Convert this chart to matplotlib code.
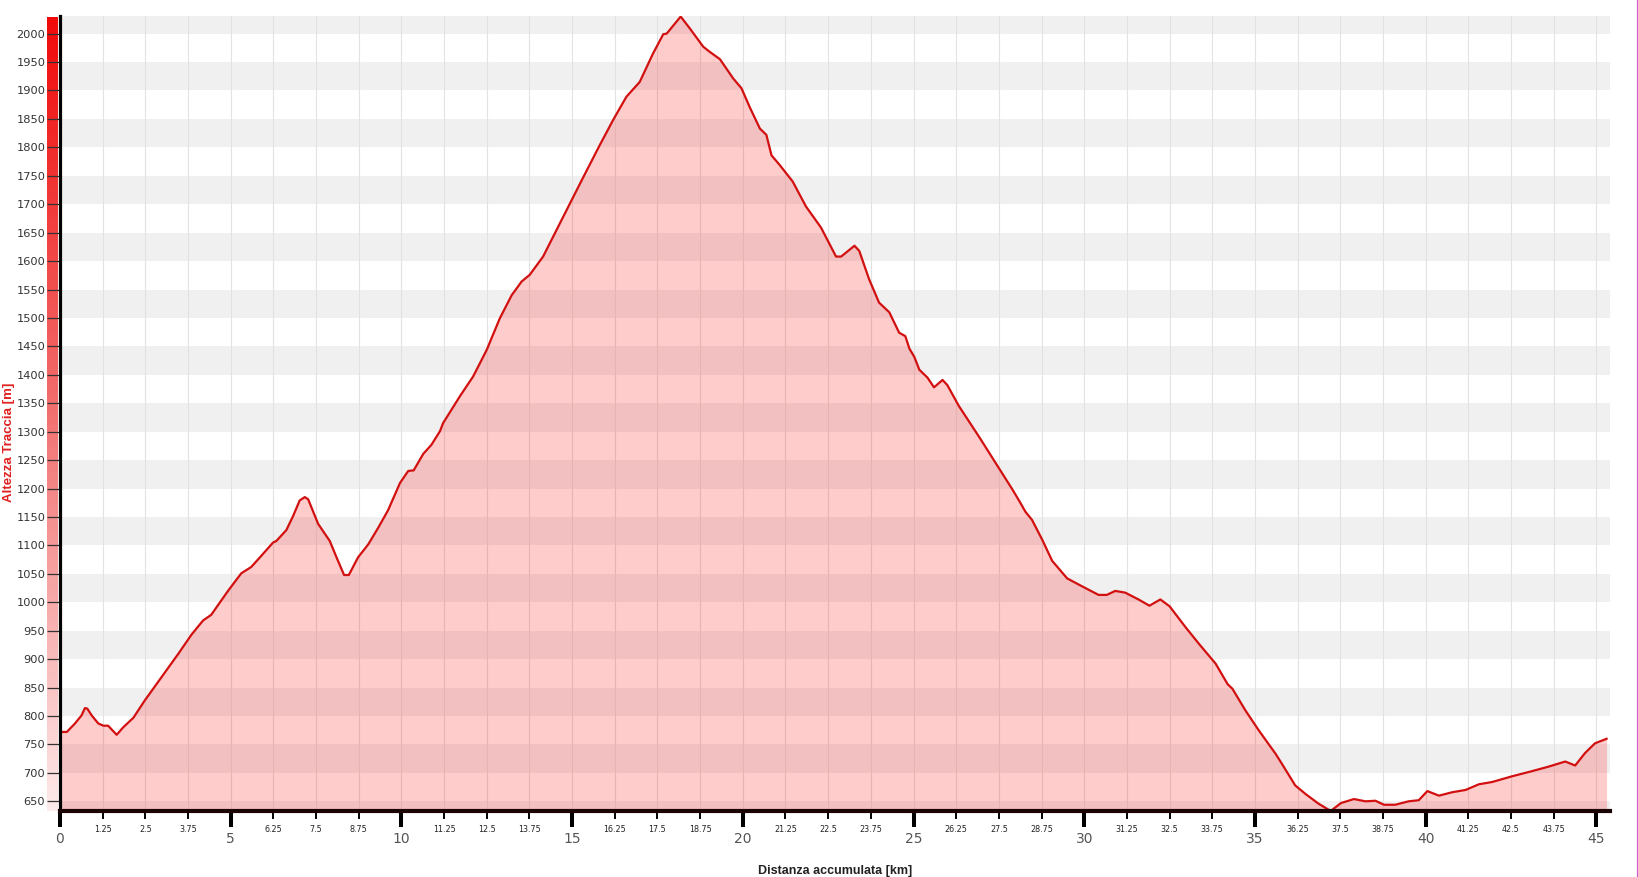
import numpy as np
import matplotlib
matplotlib.use("Agg")
import matplotlib.pyplot as plt
from matplotlib.colors import LinearSegmentedColormap
from matplotlib.lines import Line2D

# elevation profile
dist_km = [0.0, 0.2, 0.44, 0.63, 0.73, 0.8, 0.93, 1.12, 1.27, 1.41, 1.66, 1.85, 2.15,
           2.49, 2.98, 3.46, 3.85, 4.19, 4.43, 4.92, 5.31, 5.6, 5.9, 6.24, 6.34, 6.63,
           6.83, 7.02, 7.17, 7.27, 7.56, 7.9, 8.1, 8.32, 8.46, 8.73, 9.03, 9.32, 9.61,
           9.96, 10.2, 10.36, 10.64, 10.88, 11.13, 11.22, 11.71, 12.1, 12.5, 12.88,
           13.23, 13.52, 13.76, 14.15, 14.84, 15.28, 15.81, 16.2, 16.59, 16.98, 17.37,
           17.67, 17.77, 18.18, 18.45, 18.84, 19.03, 19.33, 19.72, 19.96, 20.2, 20.5,
           20.69, 20.84, 21.08, 21.46, 21.85, 22.29, 22.73, 22.88, 23.27, 23.41, 23.7,
           23.99, 24.29, 24.58, 24.76, 24.88, 25.02, 25.17, 25.41, 25.6, 25.85, 25.99,
           26.33, 26.92, 27.5, 27.89, 28.1, 28.28, 28.47, 28.77, 29.06, 29.5, 29.94,
           30.42, 30.66, 30.91, 31.2, 31.59, 31.91, 32.23, 32.5, 32.97, 33.36, 33.85,
           34.2, 34.34, 34.72, 35.11, 35.6, 35.79, 36.18, 36.48, 36.86, 37.22, 37.52,
           37.9, 38.24, 38.53, 38.78, 39.11, 39.5, 39.8, 40.05, 40.39, 40.78, 41.17,
           41.56, 41.95, 42.53, 43.11, 43.6, 44.09, 44.38, 44.67, 44.96, 45.3]
elev_m = [772, 772, 787, 801, 814, 813, 801, 787, 783, 783, 767, 780, 797,
          828, 869, 909, 943, 968, 978, 1020, 1051, 1062, 1082, 1105, 1108, 1127,
          1152, 1179, 1185, 1181, 1138, 1108, 1079, 1048, 1048, 1079, 1102, 1131, 1162,
          1210, 1231, 1232, 1261, 1277, 1301, 1315, 1362, 1397, 1444, 1499,
          1540, 1564, 1576, 1608, 1690, 1742, 1804, 1848, 1889, 1915, 1965,
          1999, 2000, 2030, 2009, 1977, 1968, 1955, 1921, 1904, 1871, 1833,
          1822, 1786, 1769, 1740, 1696, 1659, 1608, 1608, 1627, 1618, 1568,
          1527, 1510, 1474, 1468, 1446, 1432, 1409, 1395, 1378, 1391, 1382,
          1345, 1291, 1236, 1199, 1178, 1159, 1145, 1110, 1073, 1042, 1028,
          1013, 1013, 1020, 1017, 1005, 994, 1005, 993, 956, 927, 892,
          856, 848, 810, 775, 734, 716, 678, 663, 646, 633, 647,
          654, 650, 651, 644, 644, 650, 652, 668, 660, 666, 670,
          680, 684, 694, 703, 711, 720, 713, 735, 752, 760]

y_ticks = list(range(650, 2001, 50))
x_major = list(range(0, 46, 5))
x_minor = [v * 1.25 for v in range(1, 37) if (v * 1.25) % 5 != 0]

W, H = 1638, 877
fig = plt.figure(figsize=(W / 100, H / 100), dpi=100)
fig.patch.set_facecolor("white")

# main axes
ax = fig.add_axes([60 / W, 1 - 811 / H, 1550 / W, 795 / H], zorder=1)
ymin, ymax = 633, 2031
ax.set_xlim(0, 45.4)
ax.set_ylim(ymin, ymax)

# alternating grey bands
for b in range(600, 2050, 100):
    ax.axhspan(b, b + 50, color="#f0f0f0", lw=0, zorder=0)

# vertical grid every 1.25 km
for g in x_major[1:] + x_minor:
    ax.axvline(g, color="#e2e2e2", lw=0.8, zorder=0.5)

ax.fill_between(dist_km, elev_m, ymin, color="red", alpha=0.2, lw=0, zorder=1)
ax.plot(dist_km, elev_m, color="#d21010", lw=1.6, zorder=2)

for s in ["top", "right"]:
    ax.spines[s].set_visible(False)
ax.spines["left"].set_linewidth(2.3)
ax.spines["left"].set_color("black")
ax.spines["bottom"].set_linewidth(3.0)
ax.spines["bottom"].set_color("#1a0303")

ax.set_yticks(y_ticks)
ax.set_yticklabels([str(v) for v in y_ticks], fontsize=8.2, color="#333333",
                   family="DejaVu Sans")
ax.tick_params(axis="y", length=9.4, width=0.9, color="#333333", pad=1.2)

ax.set_xticks(x_major)
ax.set_xticklabels([str(v) for v in x_major], fontsize=10, color="#555555",
                   family="DejaVu Sans")
ax.set_xticks(x_minor, minor=True)
ax.set_xticklabels([f"{v:g}" for v in x_minor], minor=True, fontsize=5.8,
                   color="#222222", family="DejaVu Sans")
ax.tick_params(axis="x", which="major", length=11.5, width=2.9, color="black", pad=3.5)
ax.tick_params(axis="x", which="minor", length=5.8, width=1.4, color="black", pad=4.5)

ax.set_xlabel("Distanza accumulata [km]", fontsize=9, fontweight="bold",
              color="#222222", family="Liberation Sans", labelpad=14)
fig.text(0.0055, 0.496, "Altezza Traccia [m]", rotation=90, ha="center", va="center",
         fontsize=9.5, fontweight="bold", color="#e02020", family="Liberation Sans")

# red gradient bar next to the y axis
bar = fig.add_axes([47 / W, 1 - 811 / H, 11 / W, 794 / H], zorder=0)
cmap = LinearSegmentedColormap.from_list("bar", ["#fdeaea", "#f27070", "#f00a0a"])
grad = np.linspace(0, 1, 256).reshape(-1, 1)
bar.imshow(grad, aspect="auto", cmap=cmap, origin="lower")
bar.axis("off")

# thin magenta frame line on the right edge
fig.add_artist(Line2D([1 - 0.6 / W, 1 - 0.6 / W], [0, 1], transform=fig.transFigure,
                      color="#d060d0", lw=0.9))

fig.savefig("out.png", dpi=100)
